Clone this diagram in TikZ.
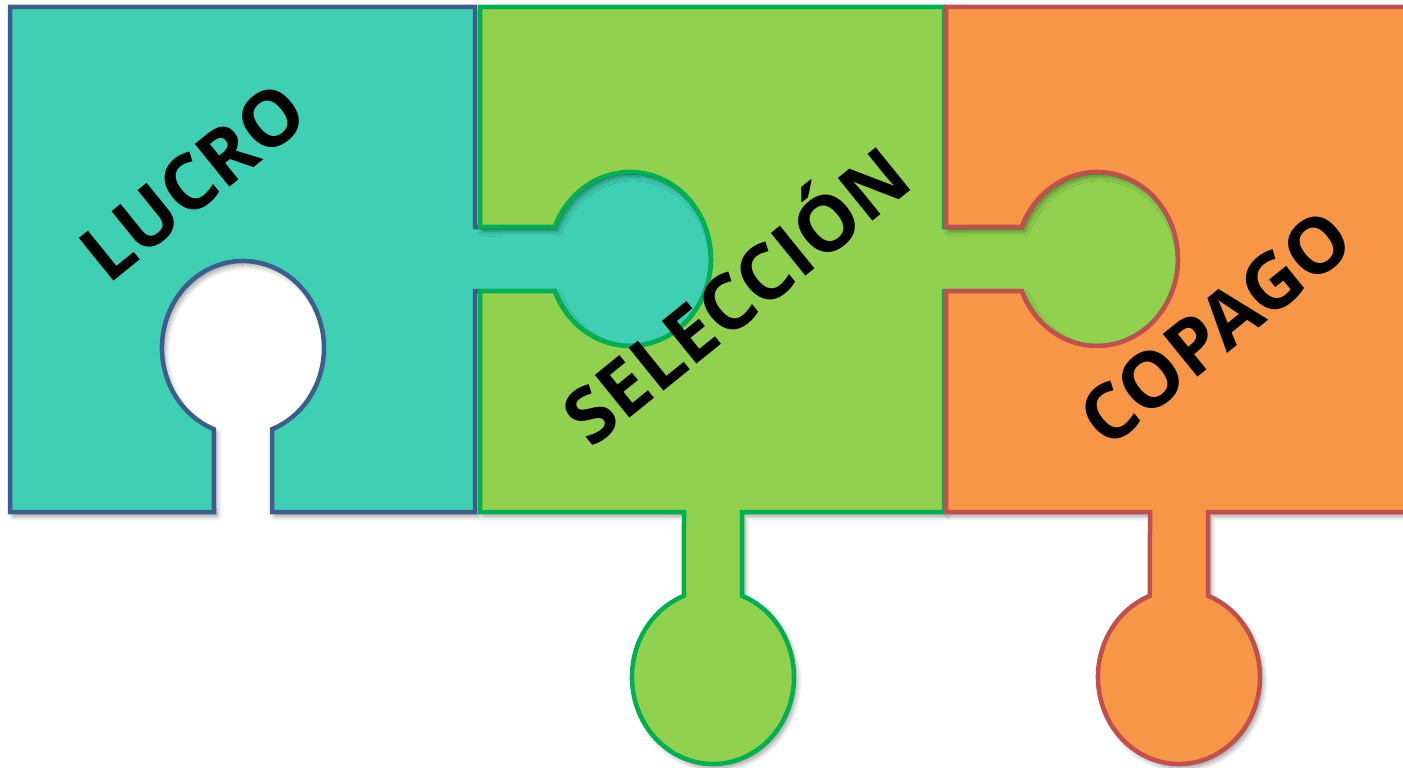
\documentclass[tikz,border=0pt]{standalone}
\usepackage{fontspec}
\setmainfont{Open Sans}
\usetikzlibrary{shadows.blur}
\definecolor{tealfill}{RGB}{63,207,179}
\definecolor{tealline}{RGB}{59,94,140}
\definecolor{greenfill}{RGB}{146,208,80}
\definecolor{greenline}{RGB}{0,176,80}
\definecolor{orangefill}{RGB}{247,150,70}
\definecolor{orangeline}{RGB}{192,80,77}
\tikzset{
  piece/.style={line width=4.5pt, blur shadow={shadow xshift=3pt, shadow yshift=-4pt, shadow blur radius=5pt, shadow opacity=40, shadow blur steps=8}},
  tealpiece/.style={piece, fill=tealfill, draw=tealline},
  greenpiece/.style={piece, fill=greenfill, draw=greenline},
  orangepiece/.style={piece, fill=orangefill, draw=orangeline},
  word/.style={font=\fontsize{77}{80}\selectfont\bfseries, text=black, inner sep=0pt, anchor=base, rotate=39},
  knob/.style={x radius=81, y radius=87}
}
\begin{document}
\begin{tikzpicture}[x=1pt, y=-1pt]
\useasboundingbox (0,0) rectangle (1403,768);
\clip (0,0) rectangle (1403,768);
% teal piece (LUCRO)
\path[tealpiece] (10,7) -- (475,7) -- (475,227) -- (554.7,227)
  arc[knob, start angle=201.6, end angle=518.4] -- (475,291) -- (475,512)
  -- (272,512) -- (272,429.2) arc[knob, start angle=69, end angle=-249]
  -- (214,512) -- (10,512) -- cycle;
% green piece (SELECCION)
\path[greenpiece] (480,7) -- (944,7) -- (944,227) -- (1021.7,227)
  arc[knob, start angle=201.6, end angle=518.4] -- (944,291) -- (944,512)
  -- (742,512) -- (742,595.8) arc[knob, start angle=-69, end angle=249]
  -- (684,512) -- (480,512) -- (480,291) -- (554.7,291)
  arc[knob, start angle=158.4, end angle=-158.4] -- (480,227) -- cycle;
% orange piece (COPAGO)
\path[orangepiece] (946,7) -- (1425,7) -- (1425,512) -- (1208,512) -- (1208,595.8)
  arc[knob, start angle=-69, end angle=249] -- (1150,512) -- (946,512)
  -- (946,291) -- (1021.7,291) arc[knob, start angle=158.4, end angle=-158.4]
  -- (946,227) -- cycle;
% labels
\node[word] (lucro) at (210,203) {LUCRO};
\node[word] (seleccion) at (754,318) {SELECCIÓN};
\node[word] (copago) at (1233,349) {COPAGO};
\end{tikzpicture}
\end{document}
